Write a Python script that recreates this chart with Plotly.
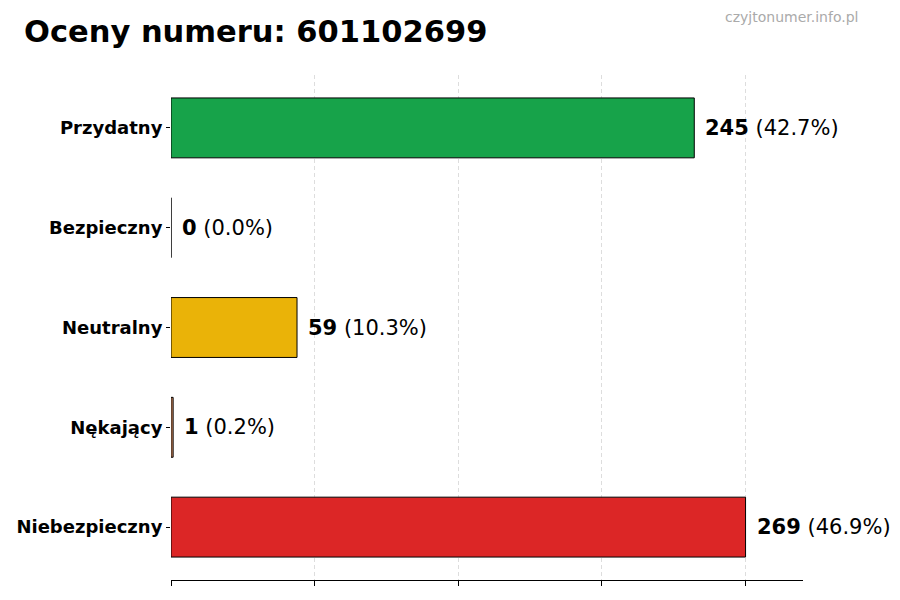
import plotly.graph_objects as go

# ratings data
categories = ["Przydatny", "Bezpieczny", "Neutralny", "Nękający", "Niebezpieczny"]
counts = [245, 0, 59, 1, 269]
percents = ["42.7%", "0.0%", "10.3%", "0.2%", "46.9%"]
colors = ["#17a34a", "#6b7280", "#eab308", "#d08a60", "#dc2626"]

max_val = max(counts)
grid_vals = [max_val * i / 4 for i in range(5)]

# page has an 8px body margin, so the figure is offset by 8px
OFF = 8
L, R, T, B = 171 - OFF, 900 - 803 + OFF, 75 - OFF, 600 - 580 + OFF
PW, PH = 900 - L - R, 600 - T - B

fig = go.Figure()

fig.add_trace(go.Bar(
    x=counts,
    y=categories,
    orientation='h',
    width=0.6,
    marker=dict(color=colors, line=dict(color='black', width=1)),
    hoverinfo='skip',
    showlegend=False
))

# value labels next to each bar
for cat, val, pct in zip(categories, counts, percents):
    fig.add_annotation(
        x=val, y=cat, xref='x', yref='y',
        text=f"<b>{val}</b> ({pct})",
        showarrow=False, xanchor='left', yanchor='middle',
        xshift=9,
        font=dict(family="DejaVu Sans", size=21, color='black')
    )

fig.add_annotation(
    x=(860 - 171) / PW, y=1 + (75 - 17) / PH, xref='paper', yref='paper',
    text="czyjtonumer.info.pl", showarrow=False,
    xanchor='right', yanchor='middle',
    font=dict(family="DejaVu Sans", size=14, color='#aaaaaa')
)

fig.update_layout(
    width=900,
    height=600,
    margin=dict(l=L, r=R, t=T, b=B),
    plot_bgcolor='white',
    paper_bgcolor='white',
    font=dict(family="DejaVu Sans", color='black'),
    title=dict(
        text="<b>Oceny numeru: 601102699</b>",
        xref='container', yref='container',
        x=(24 - OFF) / 900, xanchor='left',
        y=1 - (31 - OFF) / 600, yanchor='middle',
        font=dict(family="DejaVu Sans", size=30.5, color='black')
    ),
)

fig.update_xaxes(
    range=[0, max_val * 1.1],
    tickvals=grid_vals,
    ticktext=[""] * len(grid_vals),
    ticks='outside', ticklen=5, tickcolor='black',
    showgrid=True, gridcolor='#dddddd', griddash='4px,3px', gridwidth=1,
    zeroline=False,
    showline=True, linecolor='black', linewidth=1,
    automargin=False,
    fixedrange=True
)
fig.update_yaxes(
    categoryorder='array', categoryarray=categories,
    range=[4.53, -0.53],
    ticks='outside', ticklen=4, tickcolor='black',
    tickfont=dict(family="DejaVu Sans", size=18, color='black', weight='bold'),
    showgrid=False, zeroline=False, showline=False,
    automargin=False,
    fixedrange=True
)

fig.write_html("out.html")
